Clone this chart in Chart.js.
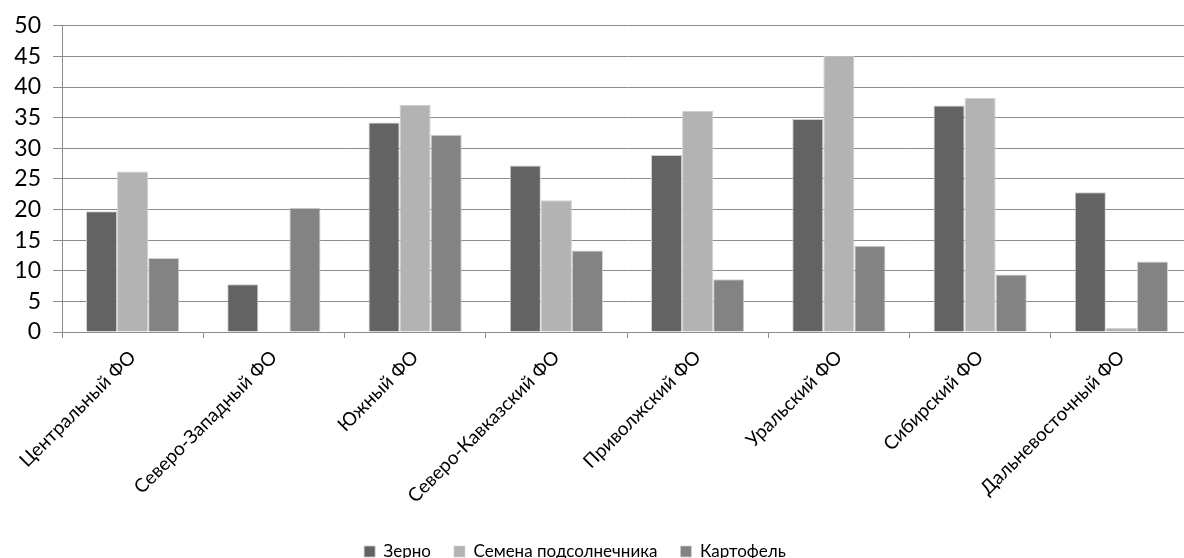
<!DOCTYPE html>
<html>
<head>
<meta charset="utf-8">
<script src="https://cdn.jsdelivr.net/npm/chart.js@4"></script>
<style>
  html, body { margin: 0; padding: 0; background: #fff; overflow: hidden; }
  #wrap { width: 1200px; height: 570px; position: relative; }
</style>
</head>
<body>
<div id="wrap"><canvas id="cropChart"></canvas></div>
<script>
// регионы и доли по культурам
const regions = [
    "Центральный ФО", "Северо-Западный ФО", "Южный ФО", "Северо-Кавказский ФО",
    "Приволжский ФО", "Уральский ФО", "Сибирский ФО", "Дальневосточный ФО"
];
const grain = [19.7, 7.8, 34.2, 27.2, 28.9, 34.8, 37.0, 22.8];
const sunflower = [26.2, 0, 37.1, 21.5, 36.1, 45.1, 38.2, 0.7];
const potato = [12.1, 20.3, 32.2, 13.3, 8.6, 14.1, 9.4, 11.5];
const yTicks = [0, 5, 10, 15, 20, 25, 30, 35, 40, 45, 50];

const FONT = "Lato, 'Open Sans', sans-serif";
const AXIS_GRAY = "#8c8c8c";

function makeSet(label, values, color) {
    return {
        label: label,
        data: values,
        backgroundColor: color,
        borderColor: "#d0d0d0",
        borderWidth: { top: 1, left: 1, right: 1, bottom: 0 },
        barPercentage: 1,
        categoryPercentage: 0.66
    };
}

// легенда чуть левее центра холста
const legendShift = {
    id: "legendShift",
    afterLayout(chart) {
        chart.legend.left -= 22;
        chart.legend.right -= 22;
    }
};

new Chart(document.getElementById("cropChart"), {
    type: "bar",
    data: {
        labels: regions,
        datasets: [
            makeSet("Зерно", grain, "#636363"),
            makeSet("Семена подсолнечника", sunflower, "#b3b3b3"),
            makeSet("Картофель", potato, "#838383")
        ]
    },
    plugins: [legendShift],
    options: {
        responsive: true,
        maintainAspectRatio: false,
        animation: false,
        layout: { padding: { top: 24, right: 8, bottom: 0, left: 2 } },
        plugins: {
            tooltip: { enabled: false },
            legend: {
                position: "bottom",
                labels: {
                    font: { family: FONT, size: 17 },
                    color: "#000",
                    boxWidth: 11,
                    boxHeight: 11,
                    padding: 23
                }
            }
        },
        scales: {
            x: {
                afterFit: axis => { axis.height = 188; },
                grid: { offset: true, drawOnChartArea: false, drawTicks: true, tickLength: 6, color: AXIS_GRAY },
                border: { color: AXIS_GRAY, width: 1 },
                ticks: {
                    font: { family: FONT, size: 19 },
                    color: "#000",
                    maxRotation: 45,
                    minRotation: 45,
                    autoSkip: false,
                    padding: 8
                }
            },
            y: {
                min: 0,
                max: 50,
                afterBuildTicks: axis => { axis.ticks = yTicks.map(v => ({ value: v })); },
                afterFit: axis => { axis.width = 60; },
                grid: { color: AXIS_GRAY, lineWidth: 1, tickLength: 9 },
                border: { color: AXIS_GRAY, width: 1 },
                ticks: {
                    font: { family: FONT, size: 23 },
                    color: "#000",
                    padding: 12
                }
            }
        }
    }
});
</script>
</body>
</html>
